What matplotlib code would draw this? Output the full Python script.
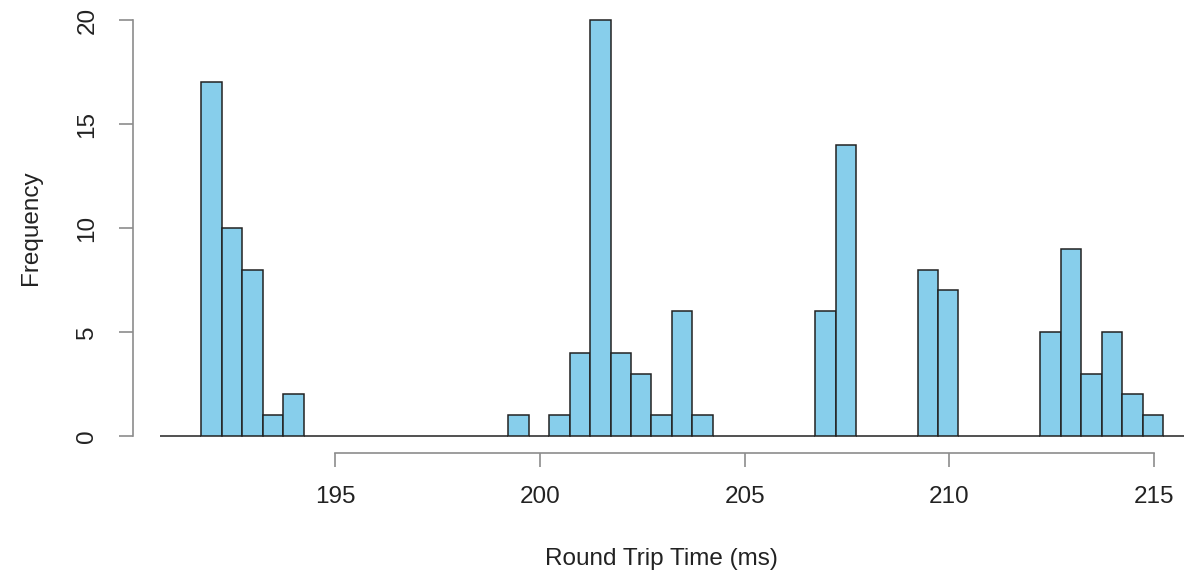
import numpy as np
import matplotlib
matplotlib.use("Agg")
import matplotlib.pyplot as plt

# ---- data ----
bin_start = 190.72
bin_width = 0.5
counts = [0, 0,                     # 190.72 - 191.72
          17, 10, 8, 1, 2,          # 191.72 - 194.22
          0, 0, 0, 0, 0, 0, 0, 0, 0, 0,   # 194.22 - 199.22
          1, 0, 1, 4, 20, 4, 3, 1, 6, 1,  # 199.22 - 204.22
          0, 0, 0, 0, 0,            # 204.22 - 206.72
          6, 14,                    # 206.72 - 207.72
          0, 0, 0,                  # 207.72 - 209.22
          8, 7,                     # 209.22 - 210.22
          0, 0, 0, 0,               # 210.22 - 212.22
          5, 9, 3, 5, 2, 1,         # 212.22 - 215.22
          0]                        # 215.22 - 215.72
x_ticks = [195, 200, 205, 210, 215]
y_ticks = [0, 5, 10, 15, 20]
x_label = "Round Trip Time (ms)"
y_label = "Frequency"

edges = bin_start + bin_width * np.arange(len(counts) + 1)

plt.rcParams['font.family'] = ['Liberation Sans', 'DejaVu Sans']
FS = 17.5
TXT = '#222222'
AXC = '#8c8c8c'

W, H = 1193, 572
fig = plt.figure(figsize=(W / 100, H / 100), dpi=100)
left_px, right_px = 133, 1201
top_px, bot_px = 3.4, 452.6
ax = fig.add_axes([left_px / W, 1 - bot_px / H,
                   (right_px - left_px) / W, (bot_px - top_px) / H])

ax.bar(edges[:-1], counts, width=bin_width, align='edge',
       color='#87CEEB', edgecolor='#222222', linewidth=1.1)

ax.set_xlim(190.053, 216.146)
ax.set_ylim(-0.8, 20.8)

for s in ['top', 'right']:
    ax.spines[s].set_visible(False)
ax.spines['left'].set_bounds(0, 20)
ax.spines['bottom'].set_bounds(195, 215)
for s in ['left', 'bottom']:
    ax.spines[s].set_color(AXC)
    ax.spines[s].set_linewidth(1.2)

ax.set_xticks(x_ticks)
ax.set_xticklabels([str(t) for t in x_ticks])
ax.set_yticks(y_ticks)
ax.set_yticklabels([str(t) for t in y_ticks], rotation=90, ha='center', va='center')
ax.tick_params(axis='both', length=10.1, width=1.2, color=AXC,
               labelsize=FS, labelcolor=TXT)
ax.tick_params(axis='x', pad=14)
ax.tick_params(axis='y', pad=22.7)

ax.set_xlabel(x_label, fontsize=FS, color=TXT)
ax.xaxis.set_label_coords((661 - left_px) / (right_px - left_px),
                          (bot_px - 548) / (bot_px - top_px))
ax.set_ylabel(y_label, fontsize=FS, color=TXT)
ax.yaxis.set_label_coords((42 - left_px) / (right_px - left_px), 0.5)

fig.savefig("out.png", dpi=100)
